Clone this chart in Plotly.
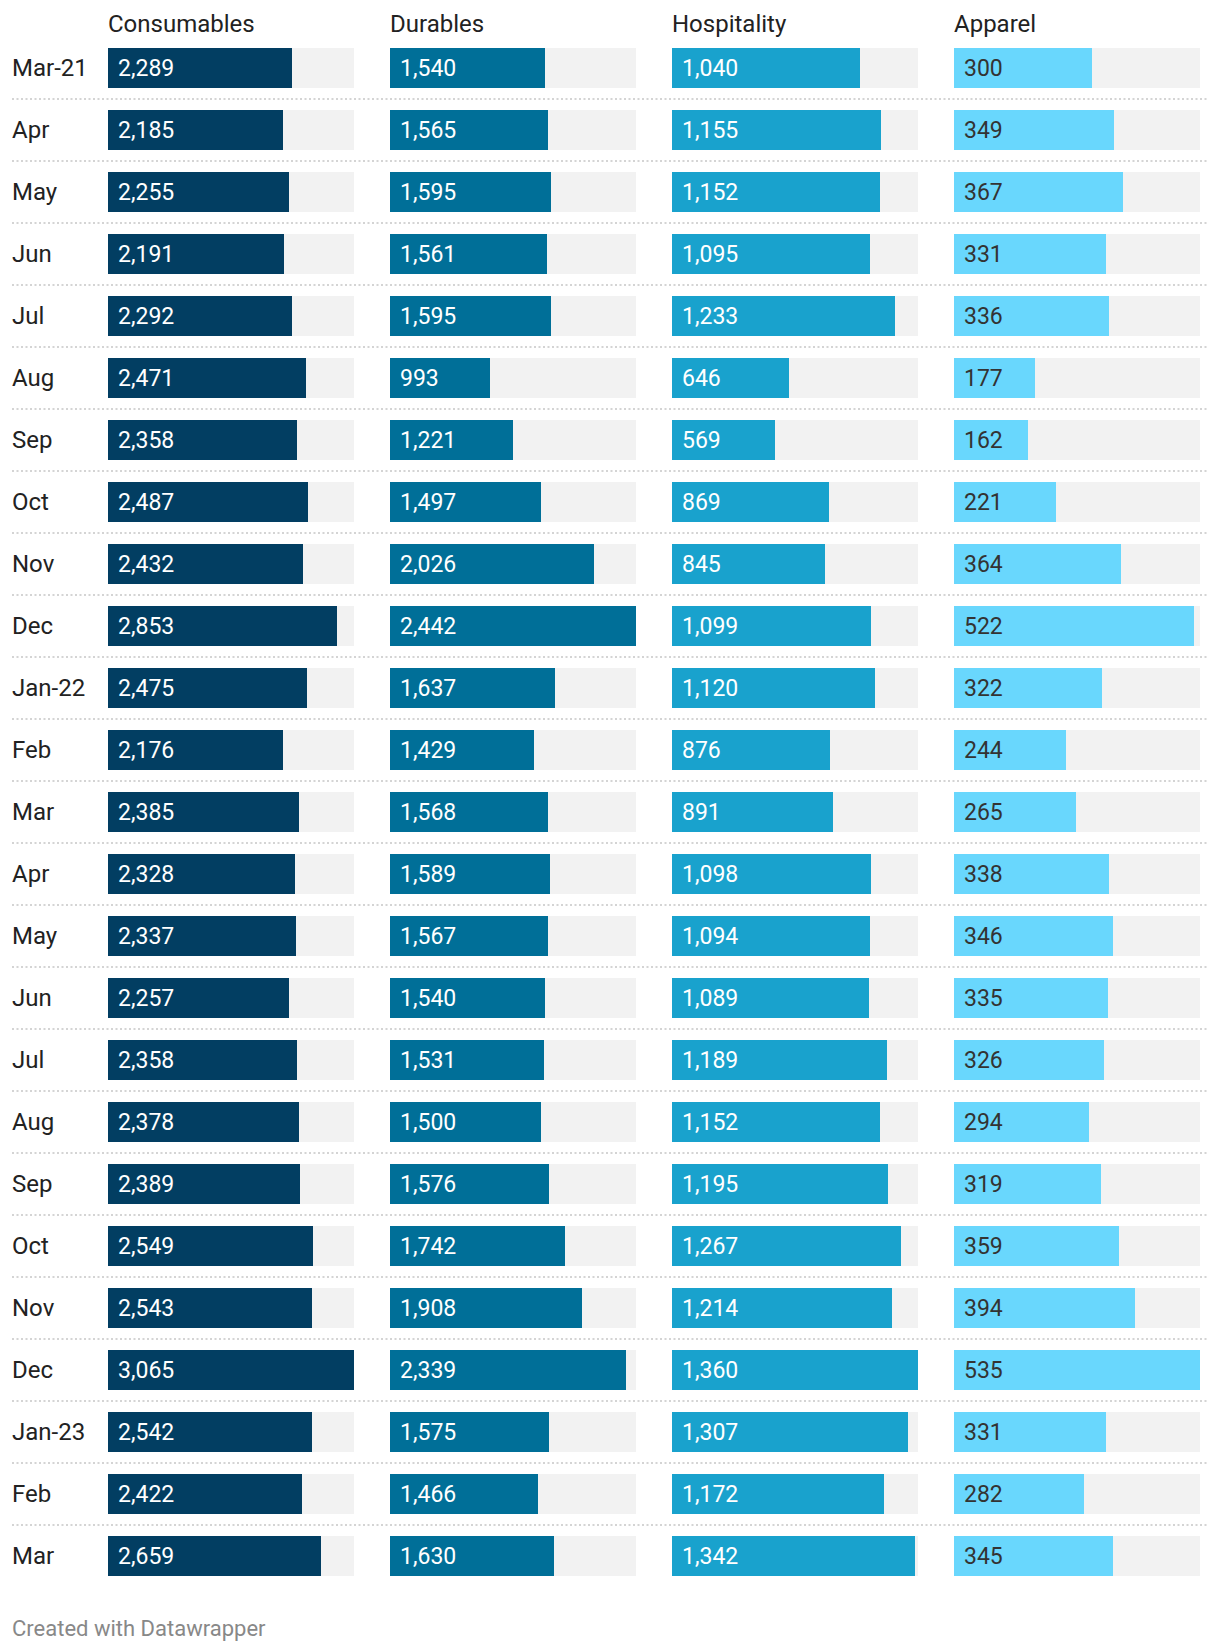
import plotly.graph_objects as go

months = ["Mar-21", "Apr", "May", "Jun", "Jul", "Aug", "Sep", "Oct", "Nov", "Dec",
          "Jan-22", "Feb", "Mar", "Apr", "May", "Jun", "Jul", "Aug", "Sep", "Oct",
          "Nov", "Dec", "Jan-23", "Feb", "Mar"]

consumables = [2289, 2185, 2255, 2191, 2292, 2471, 2358, 2487, 2432, 2853,
               2475, 2176, 2385, 2328, 2337, 2257, 2358, 2378, 2389, 2549,
               2543, 3065, 2542, 2422, 2659]
durables = [1540, 1565, 1595, 1561, 1595, 993, 1221, 1497, 2026, 2442,
            1637, 1429, 1568, 1589, 1567, 1540, 1531, 1500, 1576, 1742,
            1908, 2339, 1575, 1466, 1630]
hospitality = [1040, 1155, 1152, 1095, 1233, 646, 569, 869, 845, 1099,
               1120, 876, 891, 1098, 1094, 1089, 1189, 1152, 1195, 1267,
               1214, 1360, 1307, 1172, 1342]
apparel = [300, 349, 367, 331, 336, 177, 162, 221, 364, 522,
           322, 244, 265, 338, 346, 335, 326, 294, 319, 359,
           394, 535, 331, 282, 345]

series_names = ["Consumables", "Durables", "Hospitality", "Apparel"]
series_values = [consumables, durables, hospitality, apparel]
colors = ["#023e62", "#006f98", "#19a2cd", "#69d7fd"]
text_colors = ["#ffffff", "#ffffff", "#ffffff", "#333333"]

W, H = 1220, 1652
col_x0 = [108, 390, 672, 954]
col_w = 246
row0_center = 68
row_pitch = 62
bar_h = 40
FONT = "Roboto"

fig = go.Figure()
idx = list(range(len(months)))

for k, (name, vals) in enumerate(zip(series_names, series_values)):
    xa = "x" if k == 0 else f"x{k+1}"
    vmax = max(vals)
    fig.add_trace(go.Bar(
        y=idx, x=[vmax] * len(vals), orientation="h",
        marker=dict(color="#f2f2f2", line=dict(width=0)),
        width=bar_h / row_pitch, xaxis=xa, yaxis="y",
        hoverinfo="skip", showlegend=False))
    fig.add_trace(go.Bar(
        y=idx, x=vals, orientation="h",
        marker=dict(color=colors[k], line=dict(width=0)),
        width=bar_h / row_pitch, xaxis=xa, yaxis="y",
        name=name, showlegend=False))
    for i, v in enumerate(vals):
        fig.add_annotation(x=0, y=i, xref=xa, yref="y", text=f"{v:,}",
                           showarrow=False, xanchor="left", yanchor="middle",
                           xshift=8, font=dict(family=FONT, size=23, color=text_colors[k]))
    fig.add_annotation(x=0, y=1 - 24 / H, xref=f"{xa} domain", yref="paper",
                       text=name, showarrow=False, xanchor="left", yanchor="middle",
                       xshift=-2, font=dict(family=FONT, size=24, color="#222222"))

for i, m in enumerate(months):
    fig.add_annotation(x=10 / W, y=i, xref="paper", yref="y", text=m,
                       showarrow=False, xanchor="left", yanchor="middle",
                       font=dict(family=FONT, size=24, color="#222222"))
    if i > 0:
        fig.add_shape(type="line", xref="paper", yref="y",
                      x0=12 / W, x1=1208 / W, y0=i - 0.5, y1=i - 0.5,
                      line=dict(color="#d4d4d4", width=2, dash="2px,2.5px"))

fig.add_annotation(x=10 / W, y=1 - 1628 / H, xref="paper", yref="paper",
                   text="Created with Datawrapper", showarrow=False,
                   xanchor="left", yanchor="middle",
                   font=dict(family=FONT, size=22, color="#888888"))

y_top = (0 - row0_center) / row_pitch
y_bot = (H - row0_center) / row_pitch

layout_axes = {}
for k, vals in enumerate(series_values):
    key = "xaxis" if k == 0 else f"xaxis{k+1}"
    ax = dict(domain=[col_x0[k] / W, (col_x0[k] + col_w) / W],
              range=[0, max(vals)], visible=False, fixedrange=True)
    if k > 0:
        ax["anchor"] = "y"
    layout_axes[key] = ax

fig.update_layout(
    width=W, height=H,
    margin=dict(l=0, r=0, t=0, b=0),
    paper_bgcolor="white", plot_bgcolor="white",
    barmode="overlay", bargap=0,
    yaxis=dict(range=[y_bot, y_top], visible=False, fixedrange=True, domain=[0, 1]),
    font=dict(family=FONT),
    **layout_axes,
)

fig.write_html("out.html", config={"displayModeBar": False})
